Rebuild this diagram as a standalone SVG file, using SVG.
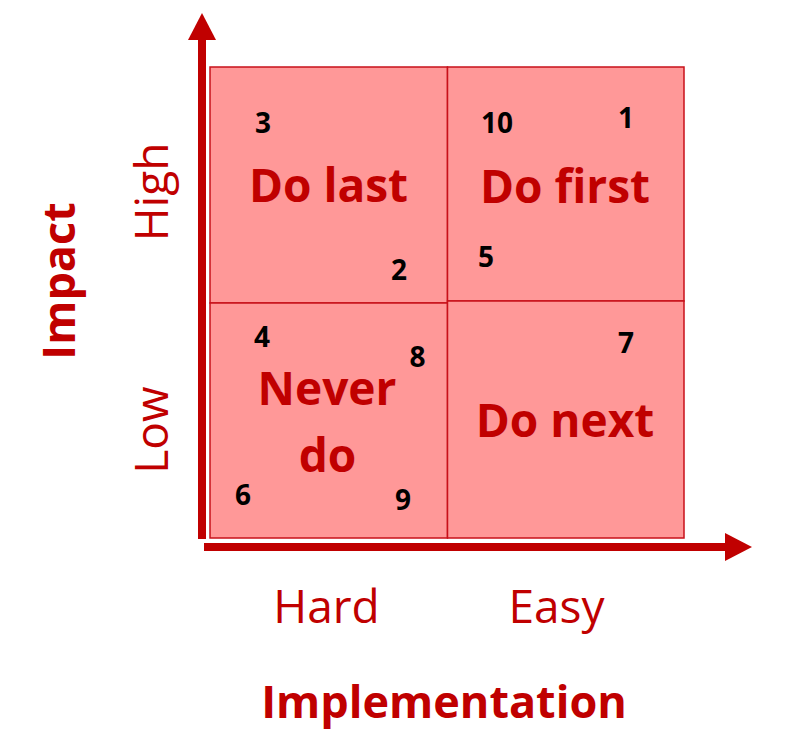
<svg xmlns="http://www.w3.org/2000/svg" width="806" height="737" viewBox="0 0 806 737">
<style>
.q{fill:#FF9898;stroke:#C8101A;stroke-width:1.5}
.lab{font-family:"Open Sans",sans-serif;font-weight:bold;fill:#C00000;text-anchor:middle;font-size:46px}
.num{font-family:"Open Sans",sans-serif;font-weight:bold;fill:#000;text-anchor:middle;font-size:28px}
.ax{font-family:"Open Sans",sans-serif;fill:#C00000;text-anchor:middle;font-size:46px}
.axb{font-family:"Open Sans",sans-serif;font-weight:bold;fill:#C00000;text-anchor:middle;font-size:45px}
.axis{fill:#C00000}
</style>
<rect width="806" height="737" fill="#fff"/>
<g id="connectors">
<rect class="axis" x="198" y="38" width="8" height="501"/>
<polygon class="axis" points="188,40 216,40 202,13"/>
<rect class="axis" x="204" y="543" width="523" height="8"/>
<polygon class="axis" points="725,533 725,561 752,547"/>
</g>
<g id="do-last">
<rect class="q" x="210" y="67" width="237.5" height="236"/>
<text class="lab" x="328.5" y="202">Do last</text>
<text class="num" x="263" y="133">3</text>
<text class="num" x="399" y="280">2</text>
</g>
<g id="do-first">
<rect class="q" x="447.5" y="67" width="236.5" height="234"/>
<text class="lab" x="565" y="203">Do first</text>
<text class="num" x="497" y="133">10</text>
<text class="num" x="626" y="128">1</text>
<text class="num" x="486" y="267">5</text>
</g>
<g id="never-do">
<rect class="q" x="210" y="303" width="237.5" height="235"/>
<text class="lab" x="327" y="405">Never</text>
<text class="lab" x="327.5" y="472">do</text>
<text class="num" x="262" y="347">4</text>
<text class="num" x="417.5" y="367">8</text>
<text class="num" x="243" y="505">6</text>
<text class="num" x="403" y="510">9</text>
</g>
<g id="do-next">
<rect class="q" x="447.5" y="301" width="236.5" height="237"/>
<text class="lab" x="565" y="437">Do next</text>
<text class="num" x="626" y="353">7</text>
</g>
<g id="axis-labels">
<text class="ax" transform="translate(168,192) rotate(-90)">High</text>
<text class="ax" transform="translate(168,430) rotate(-90)">Low</text>
<text class="axb" transform="translate(75,281) rotate(-90)">Impact</text>
<text class="ax" x="326.5" y="623">Hard</text>
<text class="ax" x="556.5" y="623">Easy</text>
<text class="axb" x="444" y="718">Implementation</text>
</g>
</svg>
